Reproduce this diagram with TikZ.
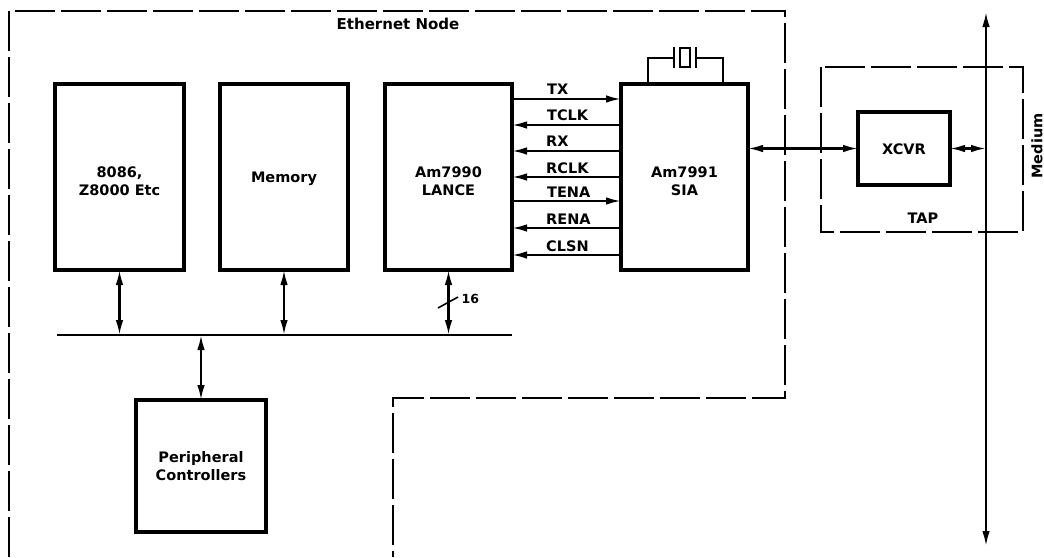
\documentclass[tikz,border=0pt]{standalone}
\usepackage{fontspec}
\setmainfont{DejaVu Sans}
\usetikzlibrary{arrows.meta}
\newcommand{\lowered}[2]{\raisebox{\dimexpr-5.5pt-#1\relax}[0pt][0pt]{\begin{tabular}{@{}c@{}}#2\end{tabular}}}
\tikzset{
  x=1pt,y=-1pt,
  tip/.style={-{Latex[length=15pt,width=7.5pt]}},
  duo/.style={{Latex[length=15pt,width=7.5pt]}-{Latex[length=15pt,width=7.5pt]}},
  wire/.style={line width=2.1pt},
  chip/.style={draw=black,line width=4pt,fill=white,align=center,inner sep=0pt,outer sep=0pt,font=\fontsize{14.5}{18}\selectfont\bfseries},
  lbl/.style={inner sep=0pt,font=\fontsize{14.5}{16}\selectfont\bfseries},
  boundary/.style={draw=black,line width=1.6pt,dash pattern=on 40pt off 6pt},
}
\begin{document}
\begin{tikzpicture}
\useasboundingbox[fill=white] (0,0) rectangle (1044,557);
% boundaries
\draw[boundary] (9,557) -- (9,11) -- (785,11) -- (785,398) -- (393,398) -- (393,557);
\draw[boundary] (821,67) rectangle (1023,232);
% blocks
\node[chip,minimum width=129pt,minimum height=186pt] (cpu) at (119.5,177) {\lowered{3.5pt}{8086,\\Z8000 Etc}};
\node[chip,minimum width=128pt,minimum height=186pt] (mem) at (284,177) {\lowered{0pt}{Memory}};
\node[chip,minimum width=127pt,minimum height=186pt] (lance) at (448.5,177) {\lowered{3.5pt}{Am7990\\LANCE}};
\node[chip,minimum width=127pt,minimum height=186pt] (sia) at (684.5,177) {\lowered{4pt}{Am7991\\SIA}};
\node[chip,minimum width=130pt,minimum height=132pt] (per) at (201,466) {\lowered{0pt}{Peripheral\\Controllers}};
\node[chip,minimum width=92pt,minimum height=73pt] (xcvr) at (904,148.5) {\lowered{0.5pt}{XCVR}};
% bus
\coordinate (busl) at (57,335);
\coordinate (busr) at (512,335);
\draw[wire] (busl) -- (busr);
\draw[wire,duo] (cpu.south) -- (cpu.south |- busl);
\draw[wire,duo] (mem.south) -- (mem.south |- busl);
\draw[wire,duo] (lance.south) -- (lance.south |- busl);
\draw[wire,duo] (per.north) -- (per.north |- busl);
% width slash
\coordinate (sla) at (438,308);
\coordinate (slb) at (458,297);
\draw[line width=1.6pt] (sla) -- (slb);
\node[lbl,font=\fontsize{12.5}{14}\selectfont\bfseries,anchor=west] (w16) at (461.5,298.5) {16};
% signals
\foreach \nm/\yy/\sty/\lx/\by in {TX/99/1/547/94,TCLK/125/0/547/120,RX/151/0/546/146,RCLK/177/0/546/173,TENA/201/1/547/197,RENA/228/0/546/224,CLSN/255/0/546/251}{
  \coordinate (s\nm) at (619,\yy);
  \ifnum\sty=1
    \draw[wire,tip] (lance.east |- s\nm) -- (sia.west |- s\nm);
  \else
    \draw[wire,tip] (sia.west |- s\nm) -- (lance.east |- s\nm);
  \fi
  \node[lbl,anchor=base west] (l\nm) at (\lx,\by) {\nm};
}
% crystal
\coordinate (xa) at (648,82);
\coordinate (xb) at (723,82);
\coordinate (xl) at (674,57.5);
\coordinate (xr) at (696,57.5);
\draw[line width=2pt] (xa) -- (xa |- xl) -- (xl);
\draw[line width=2pt] (xb) -- (xb |- xr) -- (xr);
\draw[line width=2.4pt] (674,47) -- (674,68);
\draw[line width=2.4pt] (696,47) -- (696,68);
\draw[line width=1.6pt] (680,48) rectangle (690,67);
% link to transceiver
\draw[wire,duo] (sia.east |- xcvr.west) -- (xcvr.west);
% medium
\coordinate (mtop) at (986,12);
\coordinate (mbot) at (986,546);
\draw[wire,duo] (mtop) -- (mbot);
\draw[wire,duo] (xcvr.east) -- (xcvr.east -| mtop);
% labels
\node[lbl,font=\fontsize{15}{16}\selectfont\bfseries] (en) at (398,24) {Ethernet Node};
\node[lbl] (tap) at (923,218) {TAP};
\node[lbl,rotate=90] (medl) at (1037,146) {Medium};
\end{tikzpicture}
\end{document}
